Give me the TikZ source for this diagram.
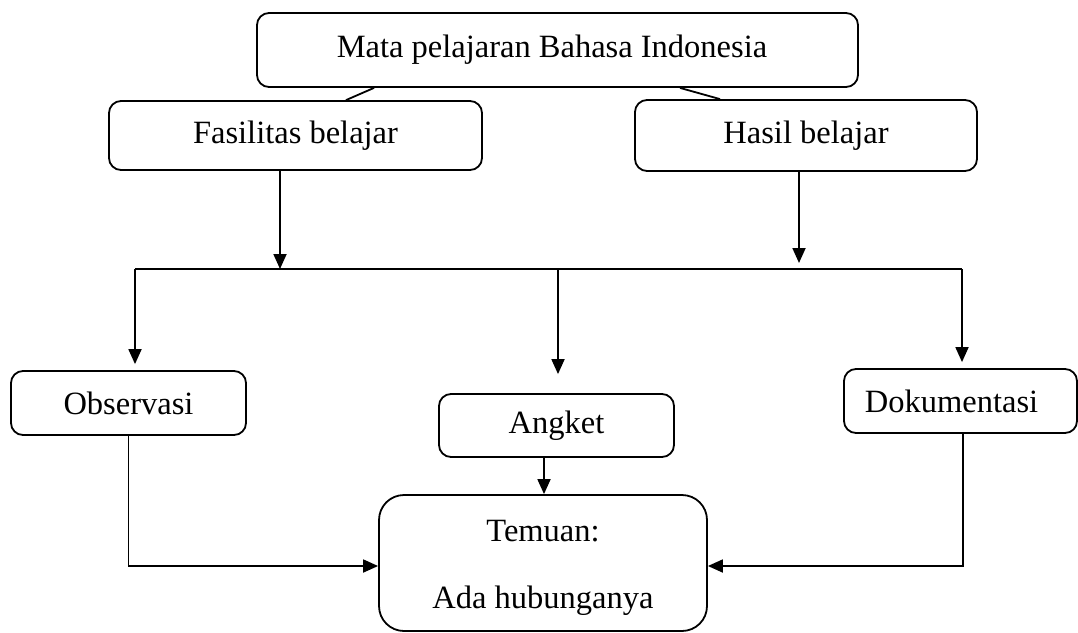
\documentclass[tikz,border=0pt]{standalone}
\usepackage{fontspec}
\setmainfont{Liberation Serif}
\usetikzlibrary{arrows.meta,calc}
\tikzset{
  box/.style={draw, line width=1.8pt, rounded corners=12pt, inner sep=0pt,
    font=\fontsize{32.5}{39}\selectfont},
  txt/.style={font=\fontsize{32.5}{39}\selectfont, inner sep=0pt},
  conn/.style={line width=1.8pt},
  arr/.style={line width=1.8pt, -{Triangle[width=13pt,length=15pt]}}
}
\begin{document}
\begin{tikzpicture}[x=1pt,y=-1pt]
\fill[white] (0,0) rectangle (1078,632);
\useasboundingbox (0,0) rectangle (1078,632);
% boxes
\node[box, minimum width=601pt, minimum height=74pt] (top) at (557.5,50) {\hspace*{-11pt}Mata pelajaran Bahasa Indonesia};
\node[box, minimum width=373pt, minimum height=69pt] (fas) at (295.5,135.5) {Fasilitas belajar};
\node[box, minimum width=342pt, minimum height=71pt] (has) at (806,135.5) {Hasil belajar};
\node[box, minimum width=235pt, minimum height=64pt] (obs) at (128.5,403) {Observasi};
\node[box, minimum width=235pt, minimum height=63pt] (ang) at (556.5,425.5) {Angket};
\node[box, minimum width=233pt, minimum height=64pt] (dok) at (960.5,401) {\hspace*{-18pt}Dokumentasi};
\node[box, rounded corners=25pt, minimum width=328pt, minimum height=136pt] (tem) at (543,563) {};
\node[txt, anchor=base] (t1) at (543,541) {Temuan:};
\node[txt, anchor=base] (t2) at (543,608) {Ada hubunganya};
% top connectors
\draw[conn] ([xshift=-183.5pt]top.south) -- ([xshift=50.5pt]fas.north);
\draw[conn] ([xshift=122.5pt]top.south) -- ([xshift=-86pt]has.north);
% bus
\coordinate (busL) at (135,269);
\coordinate (busR) at (962,269);
\draw[conn] (busL) -- (busR);
\coordinate (f1) at ([xshift=-15.5pt]fas.south);
\draw[arr] (f1) -- (f1 |- busL);
\coordinate (h1) at ([xshift=-7pt]has.south);
\draw[arr] (h1) -- ($(h1 |- busL)+(0,-6)$);
\draw[arr] (busL) -- ($(obs.north -| busL)+(0,-6)$);
\coordinate (m0) at (558,269);
\draw[arr] (m0) -- ($(ang.north -| m0)+(0,-19)$);
\draw[arr] (busR) -- ($(dok.north -| busR)+(0,-6)$);
% to Temuan
\coordinate (a1) at ([xshift=-12.5pt]ang.south);
\draw[arr] (a1) -- (a1 |- tem.north);
\coordinate (tw) at ([yshift=-3pt]tem.west);
\draw[arr] (obs.south) |- (tw);
\coordinate (d1) at ([xshift=2.5pt]dok.south);
\coordinate (te) at ([yshift=-3pt]tem.east);
\draw[arr] (d1) |- (te);
\end{tikzpicture}
\end{document}
